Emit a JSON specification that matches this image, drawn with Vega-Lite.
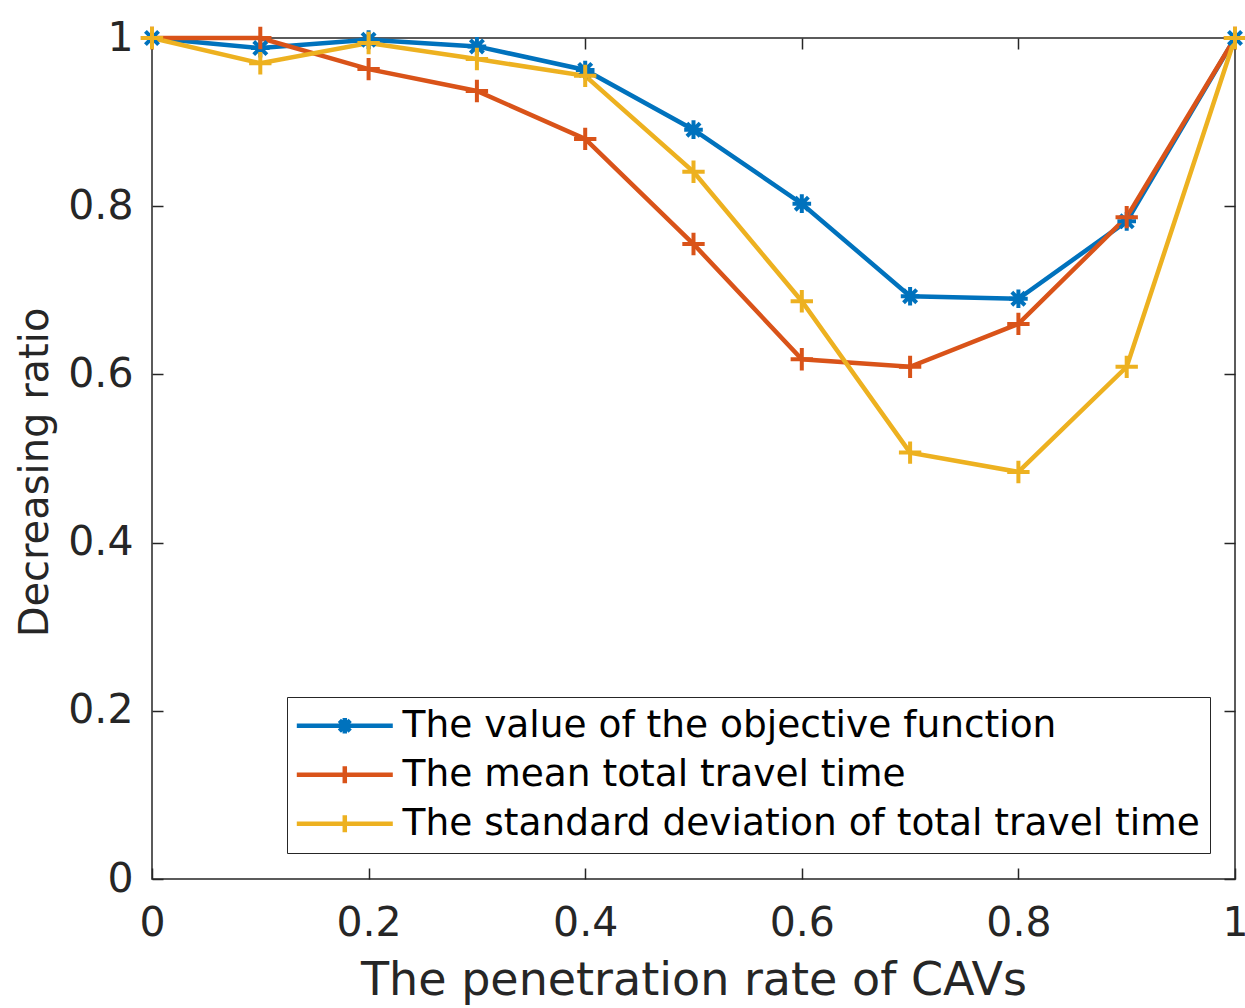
{
  "$schema": "https://vega.github.io/schema/vega-lite/v6.json",
  "width": 1083,
  "height": 841,
  "autosize": {"type": "none"},
  "padding": {"left": 152, "top": 38, "right": 10, "bottom": 129},
  "background": "white",
  "config": {
    "font": "DejaVu Sans",
    "view": {"stroke": "#262626", "strokeWidth": 1.5},
    "axis": {
      "grid": false,
      "domain": false,
      "tickSize": -11,
      "tickWidth": 1.5,
      "tickColor": "#262626",
      "labelFont": "DejaVu Sans",
      "labelFontSize": 41,
      "labelColor": "#262626",
      "titleFont": "DejaVu Sans",
      "titleColor": "#262626",
      "titleFontWeight": "normal",
      "labelFlush": false
    }
  },
  "data": {
    "values": [
      {"p": 0.0, "v": 1.0, "s": "The value of the objective function"},
      {"p": 0.1, "v": 0.988, "s": "The value of the objective function"},
      {"p": 0.2, "v": 0.998, "s": "The value of the objective function"},
      {"p": 0.3, "v": 0.990, "s": "The value of the objective function"},
      {"p": 0.4, "v": 0.962, "s": "The value of the objective function"},
      {"p": 0.5, "v": 0.891, "s": "The value of the objective function"},
      {"p": 0.6, "v": 0.803, "s": "The value of the objective function"},
      {"p": 0.7, "v": 0.693, "s": "The value of the objective function"},
      {"p": 0.8, "v": 0.690, "s": "The value of the objective function"},
      {"p": 0.9, "v": 0.782, "s": "The value of the objective function"},
      {"p": 1.0, "v": 1.0, "s": "The value of the objective function"},
      {"p": 0.0, "v": 1.0, "s": "The mean total travel time"},
      {"p": 0.1, "v": 1.0, "s": "The mean total travel time"},
      {"p": 0.2, "v": 0.963, "s": "The mean total travel time"},
      {"p": 0.3, "v": 0.937, "s": "The mean total travel time"},
      {"p": 0.4, "v": 0.880, "s": "The mean total travel time"},
      {"p": 0.5, "v": 0.755, "s": "The mean total travel time"},
      {"p": 0.6, "v": 0.618, "s": "The mean total travel time"},
      {"p": 0.7, "v": 0.609, "s": "The mean total travel time"},
      {"p": 0.8, "v": 0.660, "s": "The mean total travel time"},
      {"p": 0.9, "v": 0.787, "s": "The mean total travel time"},
      {"p": 1.0, "v": 1.0, "s": "The mean total travel time"},
      {"p": 0.0, "v": 1.0, "s": "The standard deviation of total travel time"},
      {"p": 0.1, "v": 0.970, "s": "The standard deviation of total travel time"},
      {"p": 0.2, "v": 0.994, "s": "The standard deviation of total travel time"},
      {"p": 0.3, "v": 0.975, "s": "The standard deviation of total travel time"},
      {"p": 0.4, "v": 0.955, "s": "The standard deviation of total travel time"},
      {"p": 0.5, "v": 0.841, "s": "The standard deviation of total travel time"},
      {"p": 0.6, "v": 0.687, "s": "The standard deviation of total travel time"},
      {"p": 0.7, "v": 0.507, "s": "The standard deviation of total travel time"},
      {"p": 0.8, "v": 0.484, "s": "The standard deviation of total travel time"},
      {"p": 0.9, "v": 0.609, "s": "The standard deviation of total travel time"},
      {"p": 1.0, "v": 1.0, "s": "The standard deviation of total travel time"}
    ]
  },
  "resolve": {"axis": {"x": "independent", "y": "independent"}},
  "layer": [
    {
      "mark": {"type": "line", "strokeWidth": 4.5, "clip": false},
      "encoding": {
        "x": {"field": "p", "type": "quantitative", "scale": {"domain": [0, 1], "nice": false},
              "axis": {"values": [0, 0.2, 0.4, 0.6, 0.8, 1], "format": "~g", "labelPadding": 35, "title": "The penetration rate of CAVs", "titleFontSize": 46, "titlePadding": 15}},
        "y": {"field": "v", "type": "quantitative", "scale": {"domain": [0, 1], "nice": false},
              "axis": {"values": [0, 0.2, 0.4, 0.6, 0.8, 1], "format": "~g", "labelPadding": 30, "title": "Decreasing ratio", "titleFontSize": 40, "titlePadding": 12, "titleY": 434}},
        "color": {
          "field": "s", "type": "nominal",
          "scale": {"domain": ["The value of the objective function", "The mean total travel time", "The standard deviation of total travel time"],
                    "range": ["#0072BD", "#D95319", "#EDB120"]},
          "legend": {
            "orient": "none", "legendX": 135, "legendY": 659, "title": null, "direction": "vertical",
            "labelFontSize": 37.5, "labelColor": "#000000", "labelFont": "DejaVu Sans", "labelLimit": 1000,
            "symbolType": "M-1.58,0L6.42,0M2.42,-0.7L2.42,0.7", "symbolSize": 576, "symbolStrokeWidth": 4.5,
            "symbolFillColor": "transparent", "symbolOpacity": 1,
            "strokeColor": "#262626", "fillColor": "white", "padding": 10, "rowPadding": 10, "labelOffset": 68,
            "encode": {"symbols": {"update": {"shape": {"signal": "datum.value === 'The value of the objective function' ? 'M-1.58,0L6.42,0M2.42,-0.65L2.42,0.65M1.97,-0.45L2.87,0.45M1.97,0.45L2.87,-0.45' : 'M-1.58,0L6.42,0M2.42,-0.7L2.42,0.7'"}}}}
          }
        }
      }
    },
    {
      "transform": [{"filter": "datum.s === 'The value of the objective function'"}],
      "mark": {"type": "point", "filled": false, "strokeWidth": 4, "size": 480, "opacity": 1, "clip": false,
               "shape": "M-0.85,0L0.85,0M0,-0.85L0,0.85M-0.6,-0.6L0.6,0.6M-0.6,0.6L0.6,-0.6"},
      "encoding": {
        "x": {"field": "p", "type": "quantitative", "axis": null},
        "y": {"field": "v", "type": "quantitative", "axis": null},
        "color": {"field": "s", "type": "nominal", "legend": null}
      }
    },
    {
      "transform": [{"filter": "datum.s !== 'The value of the objective function'"}],
      "mark": {"type": "point", "filled": false, "strokeWidth": 4, "size": 500, "opacity": 1, "clip": false,
               "shape": "M-1,0L1,0M0,-1L0,1"},
      "encoding": {
        "x": {"field": "p", "type": "quantitative", "axis": null},
        "y": {"field": "v", "type": "quantitative", "axis": null},
        "color": {"field": "s", "type": "nominal", "legend": null}
      }
    },
    {
      "mark": {"type": "point", "opacity": 0},
      "encoding": {
        "x": {"field": "p", "type": "quantitative", "axis": {"orient": "top", "values": [0, 0.2, 0.4, 0.6, 0.8, 1], "labels": false, "title": null}},
        "y": {"field": "v", "type": "quantitative", "axis": {"orient": "right", "values": [0, 0.2, 0.4, 0.6, 0.8, 1], "labels": false, "title": null}}
      }
    }
  ]
}
